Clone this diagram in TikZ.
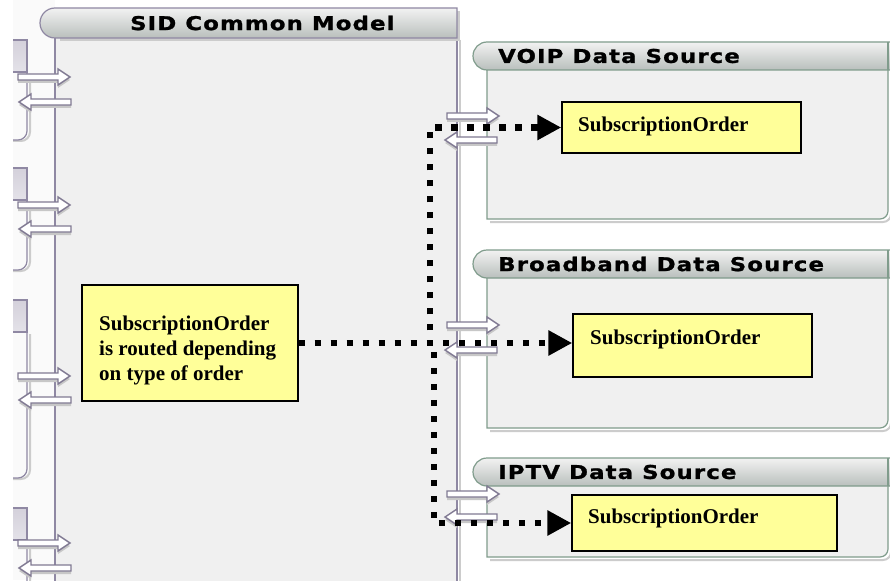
\documentclass[tikz,border=0pt]{standalone}
\usepackage{fontspec}
\usetikzlibrary{arrows.meta,positioning}
\newfontfamily\titlefont{DejaVu Sans}[FakeStretch=1.2,LetterSpace=6,FakeBold=1.2]
\newfontfamily\notefont{Liberation Serif}
\definecolor{panelbg}{HTML}{F0F0F0}
\definecolor{sidline}{HTML}{8F88A3}
\definecolor{dsline}{HTML}{809C8C}
\definecolor{notefill}{HTML}{FFFF99}
\definecolor{headtop}{HTML}{F2F2F2}
\definecolor{headbot}{HTML}{B9BFBC}
\definecolor{compdark}{HTML}{C9C5D2}
\tikzset{
  notebox/.style={draw=black, line width=1.5pt, fill=notefill, inner sep=0pt},
  notetext/.style={font=\notefont\bfseries\fontsize{21}{25}\selectfont, inner sep=0pt, anchor=base west, align=left},
  title/.style={font=\titlefont\bfseries\fontsize{19}{22}\selectfont, inner sep=0pt, anchor=west},
  route/.style={line width=6.5pt, dash pattern=on 6.5pt off 9.5pt, -{Triangle[length=24pt,width=24pt]}},
  shade/.style={black!20, line width=2pt},
  hollowarrow/.pic={
    \fill[black!22] (0,0) -- (40,0) -- (40,-5) -- (52,3) -- (40,11) -- (40,6) -- (0,6) -- cycle;
    \filldraw[draw=sidline!90!black, fill=white, line width=1.4pt] (0,-3) -- (40,-3) -- (40,-8) -- (52,0) -- (40,8) -- (40,3) -- (0,3) -- cycle;
  }
}
\begin{document}
\begin{tikzpicture}[x=1pt, y=-1pt]
\useasboundingbox (0,0) rectangle (890,580);
\fill[white] (0,0) rectangle (890,580);
\fill[black!2] (13,0) rectangle (55,580);

% SID common model
\fill[panelbg] (55,38) rectangle (457,590);
\draw[shade] (460,40) -- (460,590);
\draw[sidline, line width=1.5pt] (55,38) -- (55,590) (457,38) -- (457,590);
\fill[black!20] (460,11) -- (460,41) -- (60,41) -- (60,11) -- cycle;
\shadedraw[top color=headtop, bottom color=headbot, draw=sidline, line width=1.2pt]
  (457,8) -- (55,8) arc(270:90:15) -- (457,38) -- cycle;
\node[title] (sidtitle) at (130,23) {SID Common Model};

% partial components on the left
\foreach \top/\bot in {40/140, 168/270, 300/478, 508/600} {
  \draw[shade] (30,\top+34) -- (30,\bot-8) arc(0:90:9) -- (13,\bot+1);
  \draw[sidline, line width=1.2pt] (27,\top+32) -- (27,\bot-9) arc(0:90:9) -- (13,\bot);
  \shadedraw[top color=compdark!80, bottom color=compdark!50!white, draw=sidline, line width=1.2pt]
    (13,\top) -- (27,\top) -- (27,\top+32) -- (13,\top+32);
}
\foreach \ya/\yb in {77/102, 205/229, 376/400, 543/568} {
  \pic at (18,\ya) {hollowarrow};
  \pic[xscale=-1] at (71,\yb) {hollowarrow};
}

% data sources
\foreach \ytop/\ybot/\name in {42/219/VOIP, 250/428/Broadband, 458/557/IPTV} {
  \draw[shade] (891,\ytop+28) -- (891,\ybot-5) arc(0:90:8) -- (490,\ybot+3);
  \filldraw[fill=panelbg, draw=dsline, line width=1.2pt]
    (888,\ytop+28) -- (888,\ybot-8) arc(0:90:8) -- (487,\ybot) -- (487,\ytop+28);
  \shadedraw[top color=headtop, bottom color=headbot, draw=dsline, line width=1.2pt]
    (892,\ytop) -- (487,\ytop) arc(270:90:14) -- (892,\ytop+28);
  \draw[dsline, line width=1.2pt] (888,\ytop) -- (888,\ytop+28);
  \node[title] (\name title) at (498,\ytop+14) {\name\ Data Source};
}
\foreach \ya/\yb in {116/140, 325/350, 494/517} {
  \pic at (447,\ya) {hollowarrow};
  \pic[xscale=-1] at (497,\yb) {hollowarrow};
}

% notes
\node[notebox, minimum width=216pt, minimum height=116pt] (note) at (190,343) {};
\node[notetext] (notetext) at (99,380) {SubscriptionOrder\\is routed depending\\on type of order};
\node[notebox, minimum width=239pt, minimum height=51pt] (vbox) at (681.5,127.5) {};
\node[notetext] (vtext) at (578,132) {SubscriptionOrder};
\node[notebox, minimum width=239pt, minimum height=63pt] (bbox) at (692.5,345.5) {};
\node[notetext] (btext) at (590,344) {SubscriptionOrder};
\node[notebox, minimum width=265pt, minimum height=56pt] (ibox) at (704.5,523) {};
\node[notetext] (itext) at (588,523) {SubscriptionOrder};

% routing
\coordinate (j1) at (430,343);
\coordinate (j2) at (434,343);
\draw[route] (note.east) -- (j1) |- (vbox.west);
\draw[route] (note.east) -- (note.east -| bbox.west);
\draw[route] (note.east) -- (j2) |- (ibox.west);
\end{tikzpicture}
\end{document}
